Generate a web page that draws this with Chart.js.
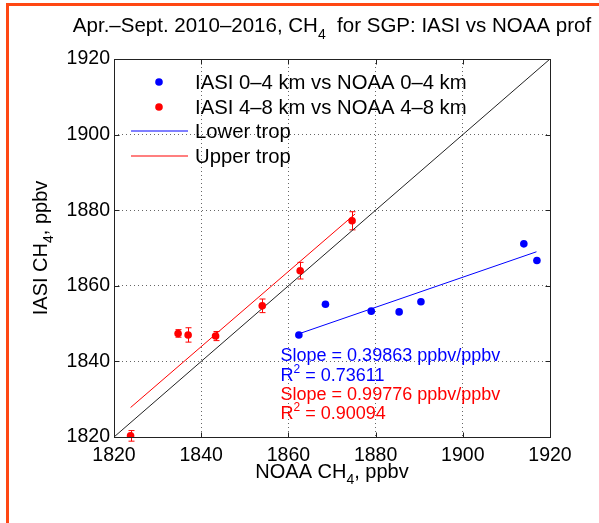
<!DOCTYPE html>
<html>
<head>
<meta charset="utf-8">
<script src="https://cdn.jsdelivr.net/npm/chart.js@4.4.0/dist/chart.umd.min.js"></script>
<style>
  html, body { margin: 0; padding: 0; background: #fff; }
  #wrap { position: relative; width: 599px; height: 523px; overflow: hidden; }
  #wrap canvas { position: absolute; left: 0; top: 0; }
  #frame { position: absolute; left: 6px; top: 3px; right: -4px; bottom: -4px;
           border-left: 3px solid #ff4713; border-top: 3px solid #ff4713; pointer-events: none; }
</style>
</head>
<body>
<div id="wrap">
  <canvas id="c" width="599" height="523"></canvas>
  <div id="frame"></div>
</div>
<script>
// NOAA (x) vs IASI (y), ppbv
const lowerNoaa = [1862.4, 1868.5, 1879.0, 1885.4, 1890.4, 1914.0, 1917.0];
const lowerIasi = [1847.0, 1855.1, 1853.3, 1853.1, 1855.8, 1871.1, 1866.7];
const upperNoaa = [1823.8, 1834.7, 1837.0, 1843.3, 1854.0, 1862.7, 1874.6];
const upperIasi = [1820.3, 1847.4, 1847.0, 1846.7, 1854.7, 1864.0, 1877.2];
const upperErr  = [1.4, 1.0, 1.9, 1.2, 1.8, 2.2, 2.4];

// fit lines (end points) and 1:1 line
const lowerFitX = [1862.4, 1916.9];
const lowerFitY = [1847.3, 1869.0];
const upperFitX = [1823.8, 1875.3];
const upperFitY = [1827.8, 1879.0];
const oneToOne  = [1820, 1920];

const tickValues = [1820, 1840, 1860, 1880, 1900, 1920];
const seriesLabels = ['IASI 0\u20134 km vs NOAA 0\u20134 km', 'IASI 4\u20138 km vs NOAA 4\u20138 km', 'Lower trop', 'Upper trop'];
const statLines = [
  { text: 'Slope = 0.39863 ppbv/ppbv', color: '#0000ff' },
  { text: 'R', sup: '2', rest: ' = 0.73611', color: '#0000ff' },
  { text: 'Slope = 0.99776 ppbv/ppbv', color: '#ff0000' },
  { text: 'R', sup: '2', rest: ' = 0.90094', color: '#ff0000' }
];

const FONT = "'Liberation Sans', Arial, Helvetica, sans-serif";
const BLUE = '#0000ff';
const RED = '#ff0000';

function pts(xs, ys) { return xs.map((x, i) => ({ x: x, y: ys[i] })); }

// draw text pieces: [{t, size, dy}]
function drawPieces(ctx, pieces, x, y, align) {
  let w = 0;
  pieces.forEach(p => { ctx.font = p.size + 'px ' + FONT; w += ctx.measureText(p.t).width; });
  let cx = align === 'center' ? x - w / 2 : x;
  ctx.textAlign = 'left';
  ctx.textBaseline = 'alphabetic';
  pieces.forEach(p => {
    ctx.font = p.size + 'px ' + FONT;
    ctx.fillText(p.t, cx, y + (p.dy || 0));
    cx += ctx.measureText(p.t).width;
  });
}

const extras = {
  id: 'extras',
  beforeDatasetsDraw(chart) {
    const ctx = chart.ctx, xs = chart.scales.x, ys = chart.scales.y;
    ctx.save();
    ctx.strokeStyle = RED;
    ctx.lineWidth = 1;
    upperNoaa.forEach((v, i) => {
      const px = Math.round(xs.getPixelForValue(v)) + 0.5;
      const top = ys.getPixelForValue(upperIasi[i] + upperErr[i]);
      const bot = ys.getPixelForValue(upperIasi[i] - upperErr[i]);
      ctx.beginPath();
      ctx.moveTo(px, top); ctx.lineTo(px, bot);
      ctx.moveTo(px - 3, top); ctx.lineTo(px + 3, top);
      ctx.moveTo(px - 3, bot); ctx.lineTo(px + 3, bot);
      ctx.stroke();
    });
    ctx.restore();
  },
  afterDraw(chart) {
    const ctx = chart.ctx, a = chart.chartArea, xs = chart.scales.x, ys = chart.scales.y;
    ctx.save();
    ctx.setLineDash([]);

    // axes box + inward ticks
    ctx.strokeStyle = '#222';
    ctx.lineWidth = 1;
    const L = Math.round(a.left) + 0.5, R = Math.round(a.right) + 0.5;
    const T = Math.round(a.top) + 0.5, B = Math.round(a.bottom) + 0.5;
    ctx.strokeRect(L, T, R - L, B - T);
    ctx.beginPath();
    tickValues.forEach(v => {
      const px = Math.round(xs.getPixelForValue(v)) + 0.5;
      const py = Math.round(ys.getPixelForValue(v)) + 0.5;
      ctx.moveTo(px, B); ctx.lineTo(px, B - 5);
      ctx.moveTo(px, T); ctx.lineTo(px, T + 5);
      ctx.moveTo(L, py); ctx.lineTo(L + 5, py);
      ctx.moveTo(R, py); ctx.lineTo(R - 5, py);
    });
    ctx.stroke();

    ctx.fillStyle = '#000';
    // title
    drawPieces(ctx, [
      { t: 'Apr.\u2013Sept. 2010\u20132016, CH', size: 20.5 },
      { t: '4', size: 14, dy: 7 },
      { t: '  for SGP: IASI vs NOAA prof', size: 20.5 }
    ], (a.left + a.right) / 2, 32, 'center');

    // x axis title
    drawPieces(ctx, [
      { t: 'NOAA CH', size: 20 },
      { t: '4', size: 14, dy: 6 },
      { t: ', ppbv', size: 20 }
    ], (a.left + a.right) / 2, 478, 'center');

    // y axis title
    ctx.save();
    ctx.translate(47, (a.top + a.bottom) / 2);
    ctx.rotate(-Math.PI / 2);
    drawPieces(ctx, [
      { t: 'IASI CH', size: 20 },
      { t: '4', size: 14, dy: 6 },
      { t: ', ppbv', size: 20 }
    ], 0, 0, 'center');
    ctx.restore();

    // legend (line samples spread over two pixel rows, like the soft reference lines)
    const rows = [89, 114, 138, 163];
    const legColors = [BLUE, RED, BLUE, RED];
    seriesLabels.forEach((lab, i) => {
      ctx.fillStyle = legColors[i];
      if (i < 2) {
        ctx.beginPath();
        ctx.arc(a.left + 45, rows[i] - 7, 3.8, 0, Math.PI * 2);
        ctx.fill();
      } else {
        ctx.fillRect(a.left + 17, rows[i] - 7.5, 57, 1);
      }
      ctx.fillStyle = '#000';
      drawPieces(ctx, [{ t: lab, size: 20.3 }], a.left + 81, rows[i], 'left');
    });

    // fit statistics
    const sx = xs.getPixelForValue(1858.2);
    const sy = ys.getPixelForValue(1840.1);
    const gaps = [0, 20, 39, 58];
    statLines.forEach((s, i) => {
      ctx.fillStyle = s.color;
      const pieces = [{ t: s.text, size: 18 }];
      if (s.sup) {
        pieces.push({ t: s.sup, size: 12, dy: -8 });
        pieces.push({ t: s.rest, size: 18 });
      }
      drawPieces(ctx, pieces, sx, sy + gaps[i], 'left');
    });

    ctx.restore();
  }
};

const axisCommon = {
  type: 'linear',
  min: 1820,
  max: 1920,
  afterBuildTicks(scale) { scale.ticks = tickValues.map(v => ({ value: v })); },
  grid: {
    drawTicks: false,
    lineWidth: 1,
    color: c => (c.tick && (c.tick.value === 1820 || c.tick.value === 1920)) ? 'rgba(0,0,0,0)' : 'rgba(0,0,0,0.6)'
  },
  border: { display: false, dash: [1, 3] }
};

new Chart(document.getElementById('c').getContext('2d'), {
  type: 'scatter',
  data: {
    datasets: [
      { label: seriesLabels[0], data: pts(lowerNoaa, lowerIasi), backgroundColor: BLUE, borderColor: BLUE,
        pointRadius: 3.8, pointHoverRadius: 3.8, borderWidth: 0 },
      { label: seriesLabels[1], data: pts(upperNoaa, upperIasi), backgroundColor: RED, borderColor: RED,
        pointRadius: 3.8, pointHoverRadius: 3.8, borderWidth: 0 },
      { label: seriesLabels[2], data: pts(lowerFitX, lowerFitY), showLine: true, borderColor: BLUE,
        borderWidth: 1, pointRadius: 0, fill: false },
      { label: seriesLabels[3], data: pts(upperFitX, upperFitY), showLine: true, borderColor: RED,
        borderWidth: 1, pointRadius: 0, fill: false },
      { label: '1:1', data: pts(oneToOne, oneToOne), showLine: true, borderColor: '#222',
        borderWidth: 1, pointRadius: 0, fill: false }
    ]
  },
  options: {
    responsive: false,
    animation: false,
    layout: { padding: { top: 59, right: 49, left: 0, bottom: 0 } },
    plugins: { legend: { display: false }, tooltip: { enabled: false }, title: { display: false } },
    scales: {
      x: Object.assign({}, axisCommon, {
        position: 'bottom',
        afterFit(scale) { scale.height = 86; },
        ticks: { color: '#000', padding: 7, maxRotation: 0, font: { family: FONT, size: 19.5 },
                 callback: v => String(v) }
      }),
      y: Object.assign({}, axisCommon, {
        position: 'left',
        afterFit(scale) { scale.width = 114; },
        ticks: { color: '#000', padding: 4, font: { family: FONT, size: 19.5 },
                 callback: v => String(v) }
      })
    }
  },
  plugins: [extras]
});
</script>
</body>
</html>
